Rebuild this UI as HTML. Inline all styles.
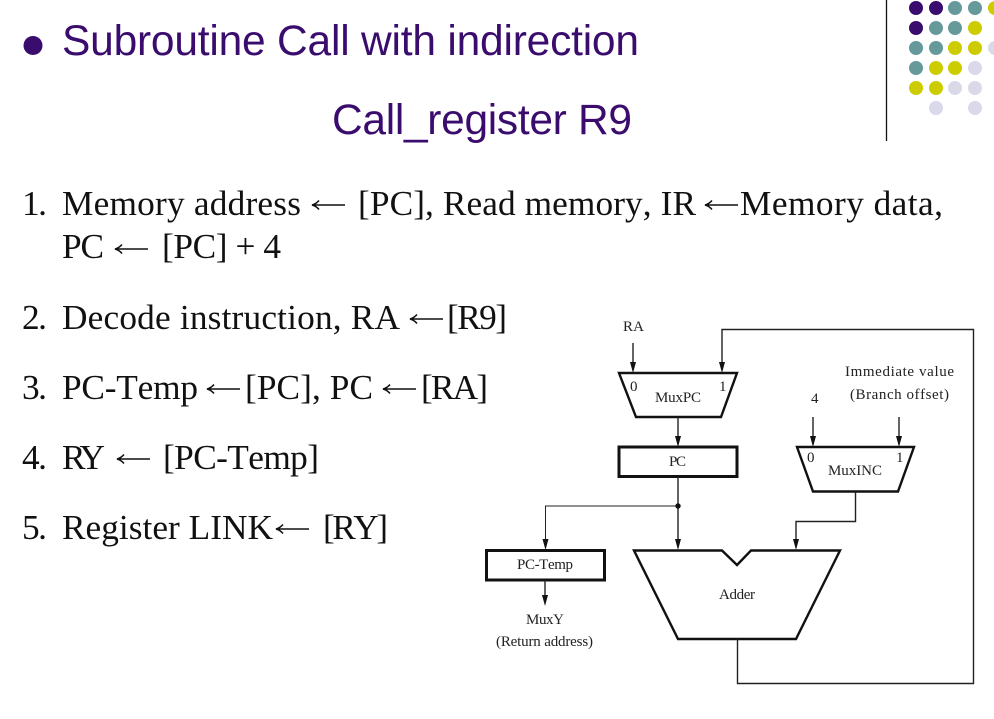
<!DOCTYPE html>
<html>
<head>
<meta charset="utf-8">
<style>
html,body{margin:0;padding:0;background:#fff;width:994px;height:719px;overflow:hidden}
svg{display:block}
.t{font-family:"Liberation Sans",sans-serif;font-size:42.500px;fill:#3a0c6e}
.b{font-family:"Liberation Serif",serif;font-size:35.300px;fill:#111;font-kerning:none}
.s{font-family:"Liberation Serif",serif;font-size:15px;fill:#222;font-kerning:none}
</style>
</head>
<body>
<svg width="994" height="719" viewBox="0 0 994 719" xmlns="http://www.w3.org/2000/svg">
<rect width="994" height="719" fill="#fff"/>

<!-- decoration -->
<line x1="886.5" y1="0" x2="886.5" y2="141" stroke="#111" stroke-width="1.3"/>
<g fill="#3a0c6e"><circle cx="916" cy="8" r="7"/><circle cx="936" cy="8" r="7"/><circle cx="916" cy="28" r="7"/></g>
<g fill="#669999"><circle cx="955" cy="8" r="7"/><circle cx="975" cy="8" r="7"/><circle cx="936" cy="28" r="7"/><circle cx="955" cy="28" r="7"/><circle cx="916" cy="48" r="7"/><circle cx="936" cy="48" r="7"/><circle cx="916" cy="68" r="7"/></g>
<g fill="#cccc00"><circle cx="995" cy="8" r="7"/><circle cx="975" cy="28" r="7"/><circle cx="955" cy="48" r="7"/><circle cx="975" cy="48" r="7"/><circle cx="936" cy="68" r="7"/><circle cx="955" cy="68" r="7"/><circle cx="916" cy="88" r="7"/><circle cx="936" cy="88" r="7"/></g>
<g fill="#d9d9ea"><circle cx="995" cy="48" r="7"/><circle cx="975" cy="68" r="7"/><circle cx="955" cy="88" r="7"/><circle cx="975" cy="88" r="7"/><circle cx="936" cy="108" r="7"/><circle cx="975" cy="108" r="7"/></g>

<!-- title -->
<circle cx="33" cy="45.500" r="9.500" fill="#3a0c6e"/>
<text class="t" x="62" y="55" textLength="577">Subroutine Call with indirection</text>
<text class="t" x="332" y="134" textLength="300">Call_register R9</text>

<!-- list -->
<text class="b" x="22" y="215" textLength="25">1.</text>
<text class="b" x="62" y="215" textLength="239">Memory address</text>
<text class="b" x="358" y="215" textLength="338">[PC], Read memory, IR</text>
<text class="b" x="740" y="215" textLength="203">Memory data,</text>

<text class="b" x="62" y="258" textLength="42">PC</text>
<text class="b" x="162" y="258" textLength="119">[PC] + 4</text>

<text class="b" x="22" y="329" textLength="25">2.</text>
<text class="b" x="62" y="329" textLength="338">Decode instruction, RA</text>
<text class="b" x="447" y="329" textLength="60">[R9]</text>

<text class="b" x="22" y="399" textLength="25">3.</text>
<text class="b" x="62" y="399" textLength="136">PC-Temp</text>
<text class="b" x="245" y="399" textLength="128">[PC], PC</text>
<text class="b" x="421" y="399" textLength="67">[RA]</text>

<text class="b" x="22" y="469" textLength="25">4.</text>
<text class="b" x="62" y="469" textLength="43">RY</text>
<text class="b" x="163" y="469" textLength="156">[PC-Temp]</text>

<text class="b" x="22" y="539" textLength="25">5.</text>
<text class="b" x="62" y="539" textLength="211">Register LINK</text>
<text class="b" x="323" y="539" textLength="65">[RY]</text>

<!-- long thin arrows between text runs -->
<g fill="none" stroke="#111" stroke-width="1.500">
<path d="M312 205H345M319 200.500Q316 204 312 205Q316 206 319 209.500"/>
<path d="M705 205H738M712 200.500Q709 204 705 205Q709 206 712 209.500"/>
<path d="M115 249H148M122 244.500Q119 248 115 249Q119 250 122 253.500"/>
<path d="M410 319H443M417 314.500Q414 318 410 319Q414 320 417 323.500"/>
<path d="M207 389H240M214 384.500Q211 388 207 389Q211 390 214 393.500"/>
<path d="M383 389H416M390 384.500Q387 388 383 389Q387 390 390 393.500"/>
<path d="M117 459H150M124 454.500Q121 458 117 459Q121 460 124 463.500"/>
<path d="M276 529H309M283 524.500Q280 528 276 529Q280 530 283 533.500"/>
</g>

<!-- diagram shapes -->
<g fill="none" stroke="#111" stroke-linejoin="miter">
<polygon points="619,373 737,373 721,417 636,417" stroke-width="2.400"/>
<rect x="619" y="447" width="118" height="29.500" stroke-width="3"/>
<polygon points="797,447 914,447 898,491.500 813,491.500" stroke-width="2.400"/>
<rect x="486.500" y="550.500" width="118" height="29.500" stroke-width="3"/>
<polygon points="634,550.500 722,550.500 737,565 751,550.500 840,550.500 796,639 678,639" stroke-width="2.400"/>
</g>

<!-- connectors -->
<g fill="none" stroke="#222" stroke-width="1.400">
<path d="M633 343V366"/>
<path d="M737.500 639V683.500H973.500V329.500H722V366"/>
<path d="M678 417V440"/>
<path d="M678 477V543"/>
<path d="M678 506H545.500V543" stroke-width="1"/>
<path d="M813 417V440"/>
<path d="M899 417V440"/>
<path d="M855.500 492V521.500H796V543"/>
<path d="M545 580V598"/>
</g>
<circle cx="678" cy="506" r="2.700" fill="#111"/>
<g fill="#111">
<polygon points="630,362 636,362 633,373"/>
<polygon points="719,362 725,362 722,373"/>
<polygon points="675,436 681,436 678,447"/>
<polygon points="810,436 816,436 813,447"/>
<polygon points="896,436 902,436 899,447"/>
<polygon points="675,539 681,539 678,550"/>
<polygon points="542.500,539 548.500,539 545.500,550"/>
<polygon points="793,539 799,539 796,550"/>
<polygon points="542,595 548,595 545,606"/>
</g>

<!-- diagram labels -->
<text class="s" x="623" y="331" textLength="21">RA</text>
<text class="s" x="630" y="391">0</text>
<text class="s" x="719" y="391">1</text>
<text class="s" x="655" y="402" textLength="46">MuxPC</text>
<text class="s" x="669" y="466" textLength="17">PC</text>
<text class="s" x="845" y="376" textLength="109">Immediate value</text>
<text class="s" x="850" y="399" textLength="99">(Branch offset)</text>
<text class="s" x="811" y="403">4</text>
<text class="s" x="807" y="462">0</text>
<text class="s" x="896" y="462">1</text>
<text class="s" x="828" y="475" textLength="54">MuxINC</text>
<text class="s" x="517" y="569" textLength="56">PC-Temp</text>
<text class="s" x="719" y="599" textLength="36">Adder</text>
<text class="s" x="526" y="624" textLength="38">MuxY</text>
<text class="s" x="496" y="646" textLength="97">(Return address)</text>
</svg>
</body>
</html>
